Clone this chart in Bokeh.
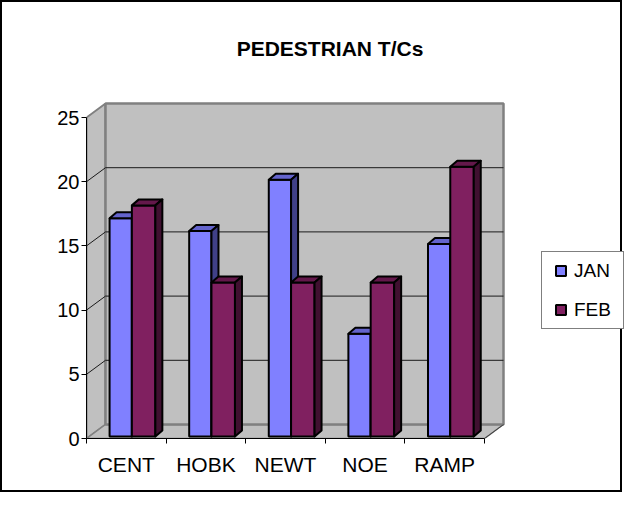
from bokeh.plotting import figure
from bokeh.models import (Range1d, FixedTicker, Legend, LegendItem, Label,
                          LinearAxis)
from bokeh.embed import file_html
from bokeh.resources import INLINE

# ---------------- data ----------------
categories = ["CENT", "HOBK", "NEWT", "NOE", "RAMP"]
jan = [17, 16, 20, 8, 15]
feb = [18, 12, 12, 12, 21]
series_names = ["JAN", "FEB"]
y_ticks = [0, 5, 10, 15, 20, 25]
title_text = "PEDESTRIAN T/Cs"

# ---------------- styling / layout ----------------
FONT = "Liberation Sans"
JAN_C = ("#8080FF", "#6464CC", "#404088")   # front, top, side
FEB_C = ("#802060", "#64184B", "#401030")
WALL = "#C0C0C0"
EDGE = "#808080"

PXX = 79.6      # px per category
PXY = 12.84     # px per value unit
W, H = 622, 492
ML, MB = 84, 56

n = len(categories)
ymax = y_ticks[-1]
DX, DY = 19 / PXX, 14 / PXY          # wall depth
BDX, BDY = 7 / PXX, 6 / PXY          # bar depth
BASE = 2 / PXY
offs = [0.29, 0.57]
bw = [0.28, 0.295]

p = figure(width=W, height=H,
           x_range=Range1d(0, (W - ML) / PXX),
           y_range=Range1d(0, (H - MB) / PXY),
           output_backend="svg", toolbar_location=None,
           min_border_left=ML, min_border_bottom=MB,
           min_border_top=0, min_border_right=0,
           x_axis_type=None, y_axis_type=None,
           styles={"border": "2px solid black"})
p.outline_line_color = None
p.background_fill_color = "white"
p.border_fill_color = "white"

# walls and floor
p.patch([0, DX, DX, 0], [0, DY, ymax + DY, ymax], fill_color=WALL,
        line_color=EDGE, line_width=2)
p.patch([0, n, n + DX, DX], [0, 0, DY, DY], fill_color=WALL,
        line_color=EDGE, line_width=1.5)
p.patch([DX, n + DX, n + DX, DX], [DY, DY, ymax + DY, ymax + DY],
        fill_color=WALL, line_color=EDGE, line_width=2.5)

# gridlines
gx, gy = [], []
for v in y_ticks[1:-1]:
    gx.append([0, DX, n + DX])
    gy.append([v, v + DY, v + DY])
p.multi_line(gx, gy, line_color="#1a1a1a", line_width=1)
p.line([n, n + DX], [0, DY], line_color="#404040", line_width=1)

# bars
for s, (vals, cols) in enumerate([(jan, JAN_C), (feb, FEB_C)]):
    x0 = [i + offs[s] for i in range(n)]
    x1 = [x + bw[s] for x in x0]
    y1 = [BASE + v for v in vals]
    y0 = [BASE] * n
    p.quad(left=x0, right=x1, bottom=y0, top=y1, fill_color=cols[0],
           line_color="black", line_width=2)
    tx = [[a, b, b + BDX, a + BDX] for a, b in zip(x0, x1)]
    ty = [[t, t, t + BDY, t + BDY] for t in y1]
    p.patches(tx, ty, fill_color=cols[1], line_color="black", line_width=2,
              line_join="round")
    sx = [[b, b + BDX, b + BDX, b] for b in x1]
    sy = [[BASE, BASE + BDY, t + BDY, t] for t in y1]
    p.patches(sx, sy, fill_color=cols[2], line_color="black", line_width=2,
              line_join="round")

# axes
yaxis = LinearAxis(ticker=FixedTicker(ticks=y_ticks), bounds=(0, ymax),
                   major_tick_out=5, major_tick_in=0,
                   minor_tick_out=0, minor_tick_in=0,
                   major_label_standoff=2,
                   major_label_text_font=FONT,
                   major_label_text_font_size="20px",
                   major_label_text_color="black",
                   axis_line_color="black", major_tick_line_color="black")
p.add_layout(yaxis, "left")

xaxis = LinearAxis(ticker=FixedTicker(ticks=[i + 0.5 for i in range(n)],
                                      minor_ticks=list(range(n + 1))),
                   bounds=(0, n),
                   major_tick_out=0, major_tick_in=0,
                   minor_tick_out=5, minor_tick_in=0,
                   major_label_overrides={i + 0.5: c for i, c in enumerate(categories)},
                   major_label_standoff=9,
                   major_label_text_font=FONT,
                   major_label_text_font_size="21px",
                   major_label_text_color="black",
                   axis_line_color="black", minor_tick_line_color="black")
p.add_layout(xaxis, "below")

# title
p.add_layout(Label(x=(329.5 - 86) / PXX, y=(438 - 47.5) / PXY, text=title_text,
                   text_align="center", text_baseline="middle",
                   text_font=FONT, text_font_size="21px",
                   text_font_style="bold", text_color="black"))

# legend
leg_r = []
for name, cols in zip(series_names, [JAN_C, FEB_C]):
    r = p.scatter(x=[-50], y=[-50], marker="square", size=10,
                  fill_color=cols[0], line_color="black", line_width=2)
    leg_r.append(LegendItem(label=name, renderers=[r]))
legend = Legend(items=leg_r, location=(455, 109), padding=6, spacing=14,
                glyph_width=25, glyph_height=25, label_height=20,
                label_width=43, label_standoff=1, margin=0,
                label_text_font=FONT, label_text_font_size="19px",
                label_text_color="black",
                border_line_color="black", border_line_width=1,
                background_fill_color="white", background_fill_alpha=1)
p.add_layout(legend)

open("out.html", "w").write(file_html(p, INLINE))
